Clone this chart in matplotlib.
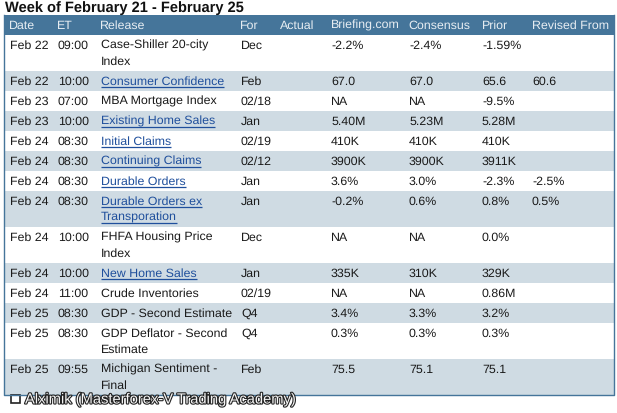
import matplotlib
matplotlib.use('Agg')
import matplotlib.pyplot as plt
from matplotlib.patches import Rectangle
from matplotlib import patheffects as pe

plt.rcParams['font.family'] = ['Liberation Sans', 'DejaVu Sans']
plt.rcParams['text.hinting'] = 'no_hinting'

title = 'Week of February 21 - February 25'
footer = 'Alximik (Masterforex-V Trading Academy)'
columns = ['Date', 'ET', 'Release', 'For', 'Actual', 'Briefing.com', 'Consensus', 'Prior', 'Revised From']
dates = ['Feb 22', 'Feb 22', 'Feb 23', 'Feb 23', 'Feb 24', 'Feb 24', 'Feb 24', 'Feb 24', 'Feb 24', 'Feb 24',
         'Feb 24', 'Feb 25', 'Feb 25', 'Feb 25']
times = ['09:00', '10:00', '07:00', '10:00', '08:30', '08:30', '08:30', '08:30', '10:00', '10:00',
         '11:00', '08:30', '08:30', '09:55']
releases = ['Case-Shiller 20-city\nIndex', 'Consumer Confidence', 'MBA Mortgage Index', 'Existing Home Sales',
            'Initial Claims', 'Continuing Claims', 'Durable Orders', 'Durable Orders ex\nTransporation',
            'FHFA Housing Price\nIndex', 'New Home Sales', 'Crude Inventories', 'GDP - Second Estimate',
            'GDP Deflator - Second\nEstimate', 'Michigan Sentiment -\nFinal']
linked = [False, True, False, True, True, True, True, True, False, True, False, False, False, False]
periods = ['Dec', 'Feb', '02/18', 'Jan', '02/19', '02/12', 'Jan', 'Jan', 'Dec', 'Jan', '02/19', 'Q4', 'Q4', 'Feb']
briefing = ['-2.2%', '67.0', 'NA', '5.40M', '410K', '3900K', '3.6%', '-0.2%', 'NA', '335K', 'NA', '3.4%', '0.3%', '75.5']
consensus = ['-2.4%', '67.0', 'NA', '5.23M', '410K', '3900K', '3.0%', '0.6%', 'NA', '310K', 'NA', '3.3%', '0.3%', '75.1']
prior = ['-1.59%', '65.6', '-9.5%', '5.28M', '410K', '3911K', '-2.3%', '0.8%', '0.0%', '329K', '0.86M', '3.2%', '0.3%', '75.1']
revised = ['', '60.6', '', '', '', '', '-2.5%', '0.5%', '', '', '', '', '', '']

HEADER = '#45759a'
STRIPE = '#cfdbe3'
LINK = '#1f4f9c'
INK = '#1a1a1a'
FS = 8.9

col_x = [10, 58, 101, 241, 280, 331, 409, 482, 532]
head_x = [9, 57, 100, 240, 280, 331, 408, 482, 532]

fig = plt.figure(figsize=(6.17, 4.13), dpi=100)
ax = fig.add_axes([0, 0, 1, 1])
ax.set_xlim(0, 617)
ax.set_ylim(413, 0)
ax.axis('off')

ax.text(5, 12, title, fontsize=10.5, fontweight='bold', color='#111111', va='baseline')

# table frame + header
left, right, top = 4, 613.5, 15
ax.add_patch(Rectangle((left, top), right - left, 20, color=HEADER, lw=0))
for x, name in zip(head_x, columns):
    ax.text(x, 29, name, fontsize=FS, color='#e8eef3', va='baseline')

y = 35
for i in range(len(dates)):
    n_lines = releases[i].count('\n') + 1
    h = 20 if n_lines == 1 else 36
    if i % 2 == 1:
        ax.add_patch(Rectangle((left, y), right - left, h, color=STRIPE, lw=0))
    y_text = y + 14
    row = [dates[i], times[i], None, periods[i], '', briefing[i], consensus[i], prior[i], revised[i]]
    for x, val in zip(col_x, row):
        if val:
            ax.text(x, y_text, val, fontsize=FS, color=INK, va='baseline')
    for k, line in enumerate(releases[i].split('\n')):
        yy = y_text + 16 * k
        t = ax.text(col_x[2], yy, line, fontsize=FS, color=LINK if linked[i] else INK, va='baseline')
        if linked[i]:
            fig.canvas.draw()
            bb = t.get_window_extent()
            ax.plot([bb.x0, bb.x1], [yy + 2.2, yy + 2.2], color=LINK, lw=0.9, solid_capstyle='butt')
    y += h

# outer border
ax.plot([left, left, right, right], [top, y, y, top], color=HEADER, lw=1)

# footer watermark
ax.add_patch(Rectangle((11, 394.5), 9, 8, fill=False, ec='#222222', lw=1.2))
ax.text(25, 403.5, footer, fontsize=10.6, color='#f4f4f4', va='baseline',
        path_effects=[pe.withStroke(linewidth=1.6, foreground='#222222')])

fig.savefig('out.png', dpi=100)
